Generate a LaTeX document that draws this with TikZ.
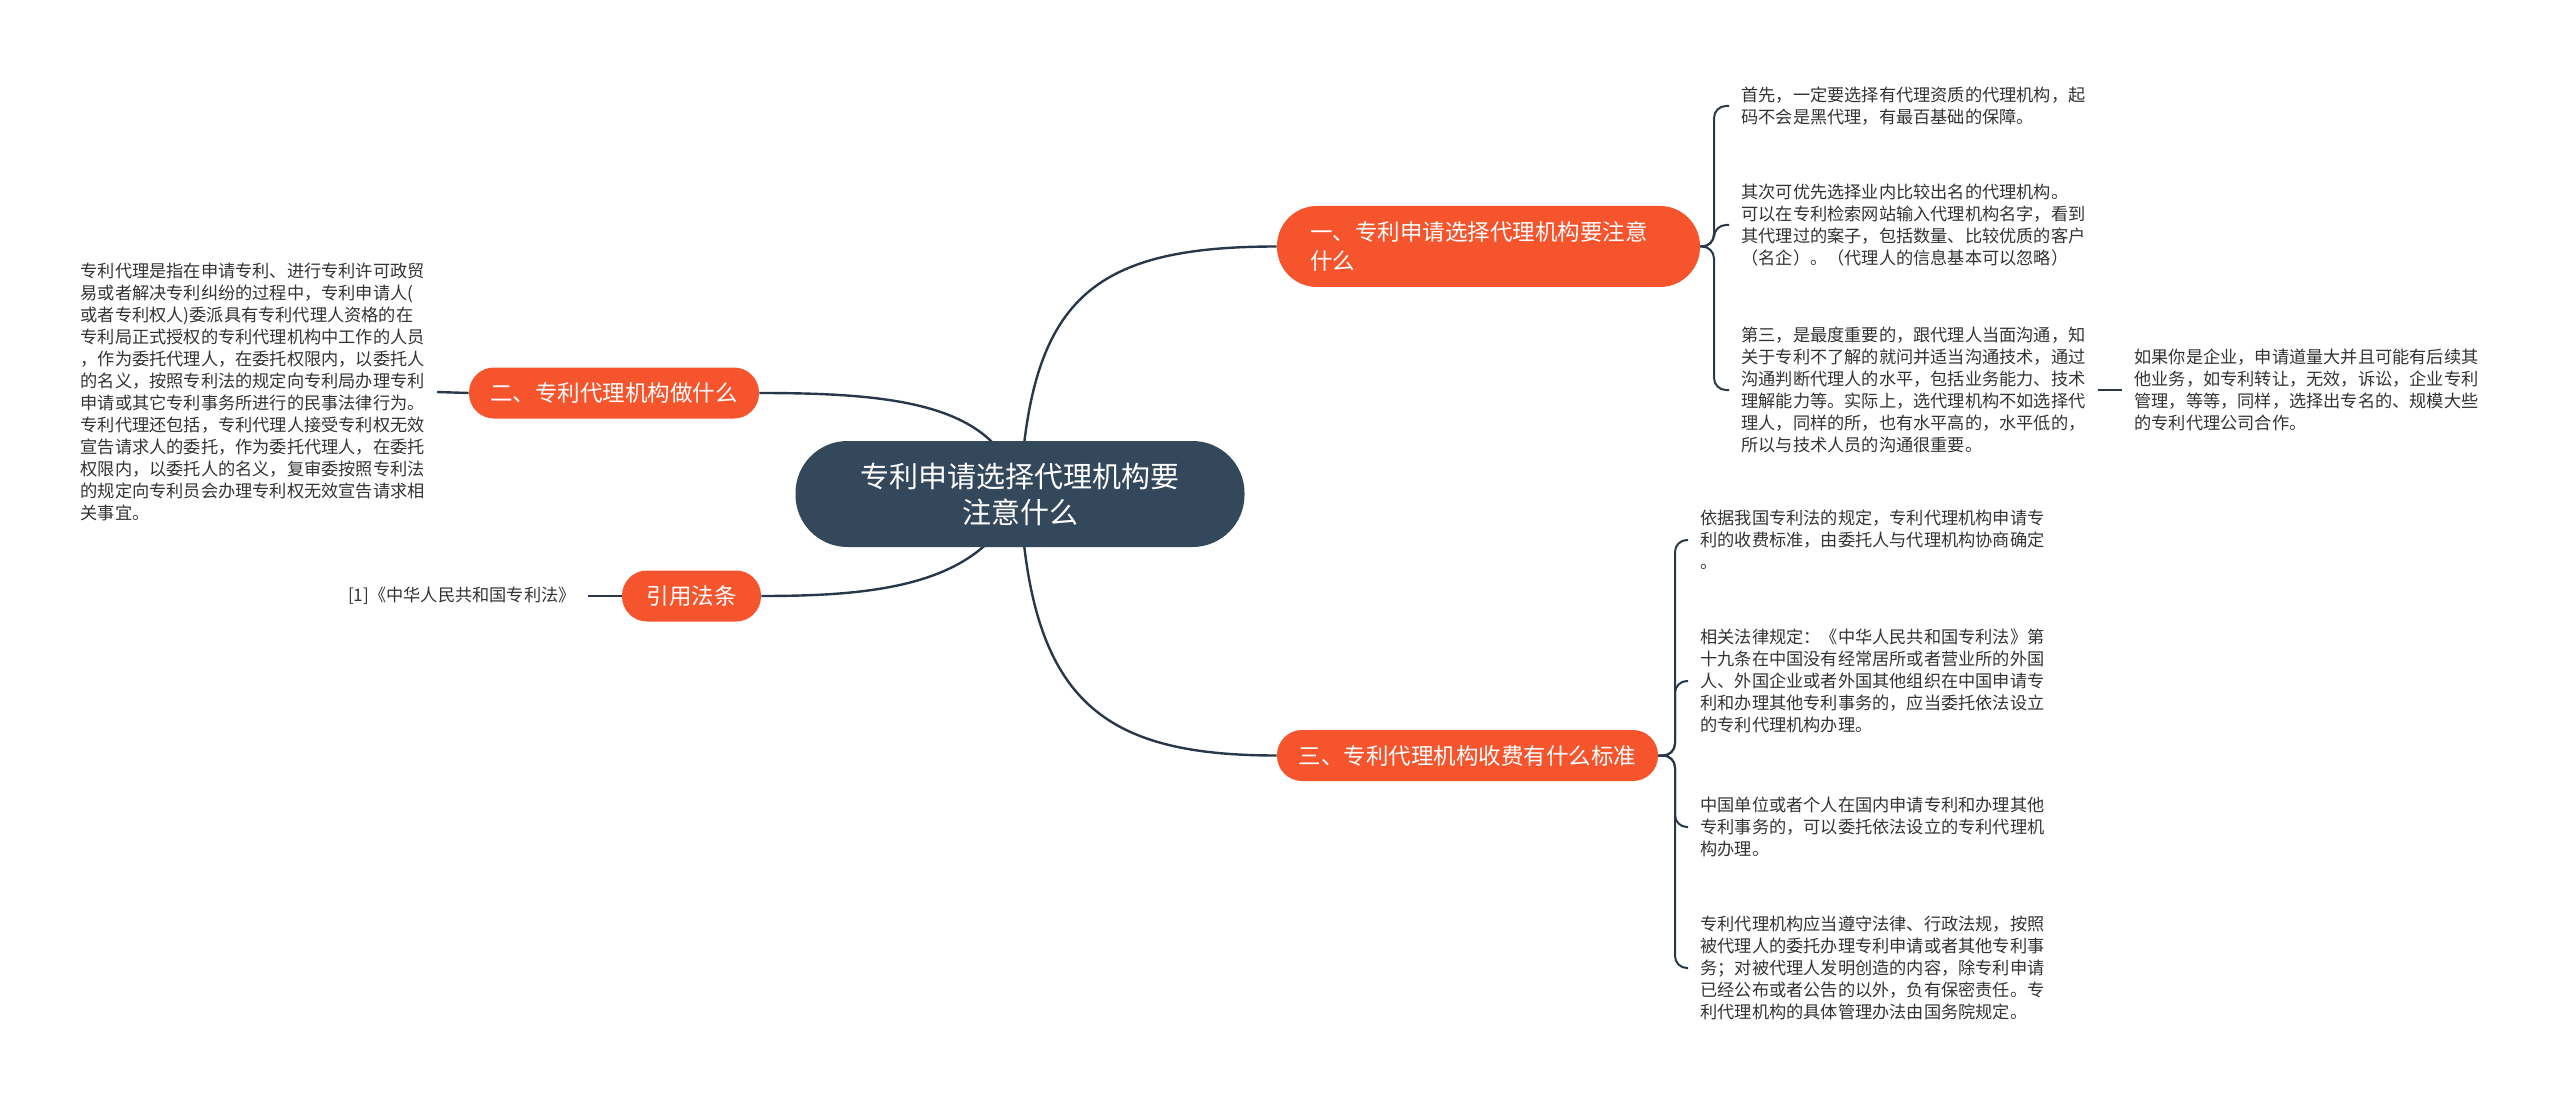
\documentclass[tikz,border=0pt]{standalone}
\usepackage{fontspec}
\setmainfont{Noto Sans CJK SC}
\usepackage{tikz}
\usetikzlibrary{positioning,backgrounds}
\definecolor{rootfill}{RGB}{52,72,92}
\definecolor{branchfill}{RGB}{245,84,44}
\definecolor{linecol}{RGB}{40,56,74}
\definecolor{leaftext}{RGB}{51,51,51}
\newcommand\rootfont{\fontsize{14.5}{18}\selectfont}
\newcommand\branchfont{\fontsize{11.25}{14.5}\selectfont}
\newcommand\leaffont{\fontsize{8.6}{11}\selectfont}

\begin{document}
\begin{tikzpicture}[x=0.5pt,y=-0.5pt,
  rootnode/.style={fill=rootfill,text=white,font=\rootfont,align=center,
    rounded corners=26pt,minimum width=224.5pt,minimum height=53pt,inner sep=0pt},
  branchnode/.style={fill=branchfill,text=white,font=\branchfont,align=center,
    rounded corners=12.5pt,minimum height=25.5pt,inner sep=0pt},
  leafnode/.style={text=leaftext,font=\leaffont,align=left,inner xsep=6pt,inner ysep=0pt},
  link/.style={draw=linecol,line width=1.2pt},
  bracket/.style={draw=linecol,line width=1pt,rounded corners=6pt}]
\useasboundingbox (0,0) rectangle (2560,1107);

\node[rootnode] (root) at (1020,494) {专利申请选择代理机构要\\注意什么};

\node[branchnode,fill=branchfill,rounded corners=20pt,minimum height=40.5pt,
  text width=178.5pt,inner xsep=16.5pt,align=left] (choose) at (1488.5,246.5)
  {一、专利申请选择代理机构要注意\\什么};
\node[branchnode,minimum width=145pt] (work) at (614,393) {二、专利代理机构做什么};
\node[branchnode,minimum width=69.5pt] (law) at (691.5,596) {引用法条};
\node[branchnode,minimum width=190.5pt] (fee) at (1467.5,755.5) {三、专利代理机构收费有什么标准};

\node[leafnode,anchor=east] (workinfo) at (437,392) {专利代理是指在申请专利、进行专利许可政贸\\
易或者解决专利纠纷的过程中，专利申请人(\\
或者专利权人)委派具有专利代理人资格的在\\
专利局正式授权的专利代理机构中工作的人员\\
，作为委托代理人，在委托权限内，以委托人\\
的名义，按照专利法的规定向专利局办理专利\\
申请或其它专利事务所进行的民事法律行为。\\
专利代理还包括，专利代理人接受专利权无效\\
宣告请求人的委托，作为委托代理人，在委托\\
权限内，以委托人的名义，复审委按照专利法\\
的规定向专利员会办理专利权无效宣告请求相\\
关事宜。};
\node[leafnode,anchor=east] (lawref) at (588,596) {[1]《中华人民共和国专利法》};

\node[leafnode,anchor=west] (first) at (1729,106) {首先，一定要选择有代理资质的代理机构，起\\
码不会是黑代理，有最百基础的保障。};
\node[leafnode,anchor=west] (second) at (1729,225) {其次可优先选择业内比较出名的代理机构。\\
可以在专利检索网站输入代理机构名字，看到\\
其代理过的案子，包括数量、比较优质的客户\\
（名企）。（代理人的信息基本可以忽略）};
\node[leafnode,anchor=west] (third) at (1729,390) {第三，是最度重要的，跟代理人当面沟通，知\\
关于专利不了解的就问并适当沟通技术，通过\\
沟通判断代理人的水平，包括业务能力、技术\\
理解能力等。实际上，选代理机构不如选择代\\
理人，同样的所，也有水平高的，水平低的，\\
所以与技术人员的沟通很重要。};
\node[leafnode,anchor=west] (company) at (2122,390) {如果你是企业，申请道量大并且可能有后续其\\
他业务，如专利转让，无效，诉讼，企业专利\\
管理，等等，同样，选择出专名的、规模大些\\
的专利代理公司合作。};

\node[leafnode,anchor=west] (feea) at (1688,540) {依据我国专利法的规定，专利代理机构申请专\\
利的收费标准，由委托人与代理机构协商确定\\
。};
\node[leafnode,anchor=west] (feeb) at (1688,681) {相关法律规定：《中华人民共和国专利法》第\\
十九条在中国没有经常居所或者营业所的外国\\
人、外国企业或者外国其他组织在中国申请专\\
利和办理其他专利事务的，应当委托依法设立\\
的专利代理机构办理。};
\node[leafnode,anchor=west] (feec) at (1688,827) {中国单位或者个人在国内申请专利和办理其他\\
专利事务的，可以委托依法设立的专利代理机\\
构办理。};
\node[leafnode,anchor=west] (feed) at (1688,968) {专利代理机构应当遵守法律、行政法规，按照\\
被代理人的委托办理专利申请或者其他专利事\\
务；对被代理人发明创造的内容，除专利申请\\
已经公布或者公告的以外，负有保密责任。专\\
利代理机构的具体管理办法由国务院规定。};

\begin{pgfonlayer}{background}
\draw[link] (root.center) .. controls (1030,300) and (1090,246.5) .. (choose.west);
\draw[link] (root.center) .. controls (1000,405) and (900,393) .. (work.east);
\draw[link] (root.center) .. controls (985,585) and (880,596) .. (law.east);
\draw[link] (root.center) .. controls (1030,700) and (1100,755.5) .. (fee.west);
\end{pgfonlayer}

\draw[link] (work.west) -- (workinfo.east);
\draw[link] (law.west) -- (lawref.east);
\draw[bracket] (third.east) -- (company.west);

\foreach \leaf in {first,second,third}
  \draw[bracket] (choose.east) -- (1714,246.5) |- (\leaf.west);
\foreach \leaf in {feea,feeb,feec,feed}
  \draw[bracket] (fee.east) -- (1675,755.5) |- (\leaf.west);
\end{tikzpicture}
\end{document}
